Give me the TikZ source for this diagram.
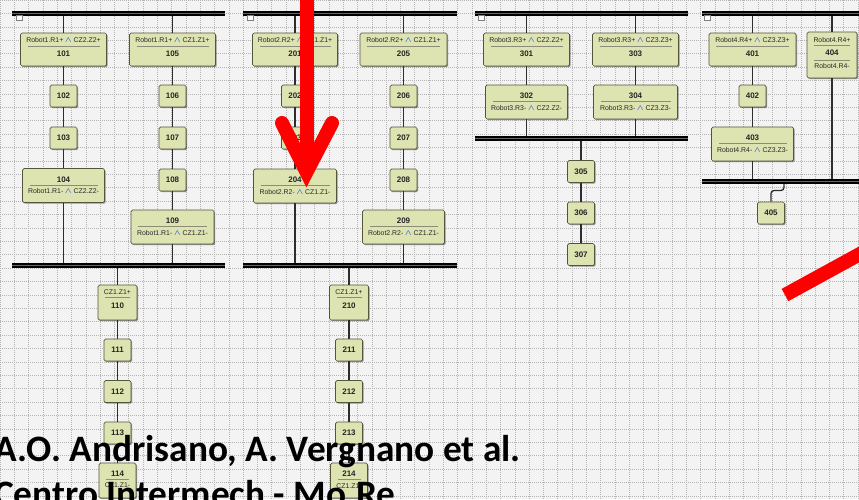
\documentclass[tikz,border=0pt]{standalone}
\usepackage{fontspec}
\setmainfont{Liberation Sans}
\newfontfamily\capfont{Carlito}
\usetikzlibrary{shadows}
\definecolor{bggray}{RGB}{243,243,243}
\definecolor{gridgray}{RGB}{180,180,180}
\definecolor{boxfill}{RGB}{222,227,178}
\definecolor{boxedge}{RGB}{85,85,60}
\definecolor{lbltext}{RGB}{40,40,40}
\definecolor{andblue}{RGB}{50,90,220}
\definecolor{sepgray}{RGB}{140,140,120}
\definecolor{linegray}{RGB}{45,45,45}
\newcommand{\lblf}{\fontsize{6.9}{7}\selectfont}
\newcommand{\numf}{\fontsize{8}{9}\selectfont\bfseries}
\newcommand{\lnd}{\ \textcolor{andblue}{\fontsize{8.5}{8}\selectfont\boldmath$\wedge$}\ }
\newcommand{\sepl}[1]{\hbox to #1pt{\hss\textcolor{sepgray}{\vrule width \dimexpr#1pt-14pt\relax height 0.6pt depth 0pt}\hss}}
\newcommand{\tup}[4]{\vbox to #2pt{\offinterlineskip\kern4.5pt\hbox to #1pt{\hss\lblf\color{lbltext}#3\hss}\kern3pt\sepl{#1}\kern4.5pt\hbox to #1pt{\hss\numf #4\hss}\vss}}
\newcommand{\tdown}[4]{\vbox to #2pt{\offinterlineskip\kern8pt\hbox to #1pt{\hss\numf #3\hss}\kern2.8pt\sepl{#1}\kern3.2pt\hbox to #1pt{\hss\lblf\color{lbltext}#4\hss}\vss}}
\newcommand{\tboth}[5]{\vbox to #2pt{\offinterlineskip\kern5.5pt\hbox to #1pt{\hss\lblf\color{lbltext}#3\hss}\kern2.5pt\sepl{#1}\kern4.5pt\hbox to #1pt{\hss\numf #4\hss}\kern4.5pt\sepl{#1}\kern3pt\hbox to #1pt{\hss\lblf\color{lbltext}#5\hss}\vss}}

\begin{document}
\begin{tikzpicture}[x=1pt,y=-1pt,
  tbig/.style={draw=boxedge, fill=boxfill, line width=0.7pt, rounded corners=1.5pt, inner sep=0pt, text=black!85,
    drop shadow={shadow xshift=1.2pt, shadow yshift=-1.2pt, opacity=0.4, fill=black}},
  tsmall/.style={tbig, minimum width=27pt, minimum height=22pt, font=\numf},
  flow/.style={draw=linegray, line width=1.3pt},
  syncbar/.style={draw=black, line width=1.9pt, double=gray!80!black, double distance=1.2pt},
  gridline/.style={draw=gridgray, line width=0.5pt, dash pattern=on 1pt off 1pt},
  iconbox/.style={draw=gray, fill=white, line width=0.5pt},
  captext/.style={font=\capfont\bfseries\fontsize{37.3}{40}\selectfont, inner sep=0pt, anchor=base west},
  redmark/.style={draw=red, line width=14pt}]
\useasboundingbox (0,0) rectangle (859,499);
\fill[bggray] (0,0) rectangle (859,499);
\draw[gridline] (0,499) grid[xstep=14.3pt, ystep=13.4pt] (859,0);
\coordinate (p1a) at (12,13.5);
\coordinate (p1b) at (225,13.5);
\coordinate (p1y) at (12,265.5);
\coordinate (p1z) at (225,265.5);
\coordinate (p2a) at (243,13.5);
\coordinate (p2b) at (457,13.5);
\coordinate (p2y) at (243,265.5);
\coordinate (p2z) at (457,265.5);
\coordinate (p3a) at (475,13.5);
\coordinate (p3b) at (688,13.5);
\coordinate (p3y) at (475,138.5);
\coordinate (p3z) at (688,138.5);
\coordinate (p4a) at (702,13.5);
\coordinate (p4b) at (870,13.5);
\coordinate (p4y) at (702,181.5);
\coordinate (p4z) at (870,181.5);
\coordinate (j405) at (784,181.5);
\node[tbig] (t101) at (63.5,49.5) {\tup{86}{33}{Robot1.R1+\lnd CZ2.Z2+}{101}};
\node[tbig] (t105) at (172.5,49.5) {\tup{86}{33}{Robot1.R1+\lnd CZ1.Z1+}{105}};
\node[tsmall] (t102) at (63.5,96) {102};
\node[tsmall] (t106) at (172.5,96) {106};
\node[tsmall] (t103) at (63.5,138) {103};
\node[tsmall] (t107) at (172.5,138) {107};
\node[tbig] (t104) at (63.5,185.5) {\tdown{82}{34}{104}{Robot1.R1-\lnd CZ2.Z2-}};
\node[tsmall] (t108) at (172.5,180) {108};
\node[tbig] (t109) at (172.5,227) {\tdown{83}{34}{109}{Robot1.R1-\lnd CZ1.Z1-}};
\node[tbig] (t110) at (117.5,302.5) {\tup{39}{35}{CZ1.Z1+}{110}};
\node[tsmall] (t111) at (117.5,350) {111};
\node[tsmall] (t112) at (117.5,391.5) {112};
\node[tsmall] (t113) at (117.5,433) {113};
\node[tbig] (t114) at (117.5,480.5) {\tdown{37}{35}{114}{CZ1.Z1-}};
\node[tbig] (t201) at (295,49.5) {\tup{85}{33}{Robot2.R2+\lnd CZ1.Z1+}{201}};
\node[tbig] (t205) at (403.5,49.5) {\tup{87}{33}{Robot2.R2+\lnd CZ1.Z1+}{205}};
\node[tsmall] (t202) at (295,96) {202};
\node[tsmall] (t206) at (403.5,96) {206};
\node[tsmall] (t203) at (295,138) {203};
\node[tsmall] (t207) at (403.5,138) {207};
\node[tbig] (t204) at (295,186) {\tdown{83}{34}{204}{Robot2.R2-\lnd CZ1.Z1-}};
\node[tsmall] (t208) at (403.5,180) {208};
\node[tbig] (t209) at (403.5,227) {\tdown{82}{34}{209}{Robot2.R2-\lnd CZ1.Z1-}};
\node[tbig] (t210) at (349,302.5) {\tup{39}{35}{CZ1.Z1+}{210}};
\node[tsmall] (t211) at (349,350) {211};
\node[tsmall] (t212) at (349,391.5) {212};
\node[tsmall] (t213) at (349,433) {213};
\node[tbig] (t214) at (349,480.5) {\tdown{37}{35}{214}{CZ1.Z1-}};
\node[tbig] (t301) at (526.5,49.5) {\tup{86}{33}{Robot3.R3+\lnd CZ2.Z2+}{301}};
\node[tbig] (t303) at (635.5,49.5) {\tup{86}{33}{Robot3.R3+\lnd CZ3.Z3+}{303}};
\node[tbig] (t302) at (526.5,102) {\tdown{82}{34}{302}{Robot3.R3-\lnd CZ2.Z2-}};
\node[tbig] (t304) at (635.5,102) {\tdown{84}{34}{304}{Robot3.R3-\lnd CZ3.Z3-}};
\node[tsmall] (t305) at (581,171.5) {305};
\node[tsmall] (t306) at (581,213) {306};
\node[tsmall] (t307) at (581,254.5) {307};
\node[tbig] (t401) at (752.5,49.5) {\tup{87}{33}{Robot4.R4+\lnd CZ3.Z3+}{401}};
\node[tbig] (t404) at (832,55) {\tboth{50}{46}{Robot4.R4+}{404}{Robot4.R4-}};
\node[tsmall] (t402) at (752.5,96) {402};
\node[tbig] (t403) at (752.5,144) {\tdown{82}{34}{403}{Robot4.R4-\lnd CZ3.Z3-}};
\node[tsmall] (t405) at (771,213) {405};
\draw[flow] (t101 |- p1a) -- (t101) -- (t102) -- (t103) -- (t104) -- (t104 |- p1y);
\draw[flow] (t105 |- p1a) -- (t105) -- (t106) -- (t107) -- (t108) -- (t109) -- (t109 |- p1y);
\draw[flow] (t110 |- p1y) -- (t110) -- (t111) -- (t112) -- (t113) -- (t114);
\draw[flow] (t201 |- p2a) -- (t201) -- (t202) -- (t203) -- (t204) -- (t204 |- p2y);
\draw[flow] (t205 |- p2a) -- (t205) -- (t206) -- (t207) -- (t208) -- (t209) -- (t209 |- p2y);
\draw[flow] (t210 |- p2y) -- (t210) -- (t211) -- (t212) -- (t213) -- (t214);
\draw[flow] (t301 |- p3a) -- (t301) -- (t302) -- (t302 |- p3y);
\draw[flow] (t303 |- p3a) -- (t303) -- (t304) -- (t304 |- p3y);
\draw[flow] (t305 |- p3y) -- (t305) -- (t306) -- (t307);
\draw[flow] (t401 |- p4a) -- (t401) -- (t402) -- (t403) -- (t403 |- p4y);
\draw[flow] (t404 |- p4a) -- (t404) -- (t404 |- p4y);
\draw[flow, rounded corners=3pt] (j405) -- ++(0,9) -| (t405);
\draw[syncbar] (p1a) -- (p1b);
\draw[syncbar] (p1y) -- (p1z);
\draw[syncbar] (p2a) -- (p2b);
\draw[syncbar] (p2y) -- (p2z);
\draw[syncbar] (p3a) -- (p3b);
\draw[syncbar] (p3y) -- (p3z);
\draw[syncbar] (p4a) -- (p4b);
\draw[syncbar] (p4y) -- (p4z);
\draw[iconbox] (16,15.5) rectangle (22,20);
\draw[iconbox] (247,15.5) rectangle (253,20);
\draw[iconbox] (478,15.5) rectangle (484,20);
\draw[iconbox] (704,15.5) rectangle (710,20);
\node[captext] (authors) at (-6,461) {A.O. Andrisano, A. Vergnano et al.};
\node[captext] (centre) at (-6,506) {Centro Intermech - Mo.Re.};
\draw[redmark] (306.5,-10) -- (306.5,160);
\draw[redmark, line cap=round] (282,123) -- (306.5,172) -- (332,123);
\draw[redmark] (785,295) -- (880,243);
\end{tikzpicture}
\end{document}
